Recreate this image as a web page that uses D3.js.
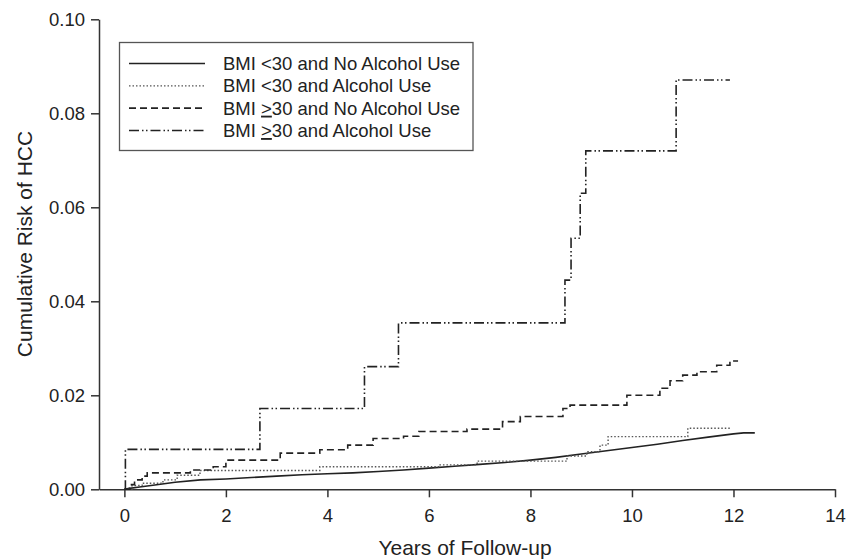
<!DOCTYPE html>
<html>
<head>
<meta charset="utf-8">
<script src="https://cdn.jsdelivr.net/npm/d3@7"></script>
<style>
  body { margin: 0; background: #fff; }
  text { font-family: "Liberation Sans", Arial, sans-serif; fill: #222; }
</style>
</head>
<body>
<div id="chart"></div>
<script>
var svg_dx = 848, svg_dy = 560;

// time (years) and cumulative risk
var noAlcLowT = [0, 0.1, 0.3, 0.6, 1.0, 1.5, 2.0, 2.5, 3.0, 3.5, 4.0, 4.5, 5.0, 5.5, 6.0, 6.5, 7.0, 7.5, 8.0, 8.5, 9.0, 9.5, 10.0, 10.5, 11.0, 11.5, 12.0, 12.2, 12.42];
var noAlcLowV = [0, 0.0002, 0.0005, 0.0009, 0.0015, 0.002, 0.0022, 0.0025, 0.0028, 0.0031, 0.0033, 0.0035, 0.0038, 0.0041, 0.0045, 0.0049, 0.0053, 0.0057, 0.0062, 0.0068, 0.0075, 0.0082, 0.0089, 0.0096, 0.0104, 0.0111, 0.0118, 0.012, 0.012];

var alcLowT = [0, 0.15, 0.35, 0.76, 1.04, 1.49, 3.85, 6.22, 6.95, 8.72, 9.11, 9.37, 9.53, 11.1, 11.93];
var alcLowV = [0, 0.0008, 0.0013, 0.002, 0.003, 0.004, 0.0048, 0.0052, 0.006, 0.0071, 0.008, 0.0094, 0.0112, 0.013, 0.013];

var noAlcHighT = [0, 0.1, 0.2, 0.35, 0.45, 1.3, 1.75, 2.0, 3.07, 3.85, 4.4, 4.9, 5.5, 5.8, 6.75, 7.45, 7.8, 8.64, 8.78, 9.9, 10.55, 10.75, 11.0, 11.28, 11.67, 11.93, 12.09];
var noAlcHighV = [0, 0.001, 0.002, 0.0028, 0.0035, 0.0041, 0.0048, 0.0062, 0.0077, 0.0084, 0.0094, 0.0108, 0.0113, 0.0123, 0.0128, 0.0144, 0.0155, 0.0172, 0.0179, 0.020, 0.0215, 0.0231, 0.0243, 0.025, 0.0264, 0.0273, 0.0273];

var alcHighT = [0, 0.02, 2.67, 4.73, 5.40, 8.68, 8.80, 8.98, 9.09, 10.87, 11.93];
var alcHighV = [0, 0.0085, 0.0172, 0.0261, 0.0354, 0.0445, 0.0534, 0.063, 0.072, 0.0871, 0.0871];

var legendLabels = [
  ["BMI <30 and No Alcohol Use"],
  ["BMI <30 and Alcohol Use"],
  ["BMI ", ">", "30 and No Alcohol Use"],
  ["BMI ", ">", "30 and Alcohol Use"]
];

var xTicks = [0, 2, 4, 6, 8, 10, 12, 14],
    yTicks = [0, 0.02, 0.04, 0.06, 0.08, 0.10];

var styles = [
  {dash: null, width: 1.6, color: "#222", curve: d3.curveLinear},
  {dash: "1.5,2", width: 1.4, color: "#555", curve: d3.curveStepAfter},
  {dash: "7,4", width: 1.6, color: "#222", curve: d3.curveStepAfter},
  {dash: "10,3,1.5,2.5,1.5,3", width: 1.6, color: "#222", curve: d3.curveStepAfter}
];

var series = [
  d3.zip(noAlcLowT, noAlcLowV),
  d3.zip(alcLowT, alcLowV),
  d3.zip(noAlcHighT, noAlcHighV),
  d3.zip(alcHighT, alcHighV)
];

var x = d3.scaleLinear().domain([-0.5, 14]).range([99, 835]);
var y = d3.scaleLinear().domain([0, 0.10]).range([489.3, 19.3]);

var svg = d3.select("#chart")
  .append("svg")
  .attr("width", svg_dx)
  .attr("height", svg_dy);

// axes
var xAxis = svg.append("g")
  .attr("transform", "translate(0," + y(0) + ")")
  .call(d3.axisBottom(x).tickValues(xTicks).tickFormat(d3.format("d")).tickSize(8).tickPadding(12).tickSizeOuter(0));

var yAxis = svg.append("g")
  .attr("transform", "translate(" + x(-0.5) + ",0)")
  .call(d3.axisLeft(y).tickValues(yTicks).tickFormat(d3.format(".2f")).tickSize(8).tickPadding(6).tickSizeOuter(0));

[xAxis, yAxis].forEach(function (g) {
  g.selectAll("path, line").attr("stroke", "#333").attr("stroke-width", 1.5);
  g.selectAll("text").style("font-size", "18.5px").attr("fill", "#222")
   .style("font-family", "'Liberation Sans', Arial, sans-serif");
});

// axis titles
svg.append("text")
  .attr("x", 465)
  .attr("y", 555)
  .attr("text-anchor", "middle")
  .style("font-size", "21px")
  .text("Years of Follow-up");

svg.append("text")
  .attr("transform", "translate(32,244) rotate(-90)")
  .attr("text-anchor", "middle")
  .style("font-size", "21px")
  .text("Cumulative Risk of HCC");

// curves
var line = d3.line()
  .x(function (d) { return x(d[0]); })
  .y(function (d) { return y(d[1]); });

series.forEach(function (s, i) {
  svg.append("path")
    .datum(s)
    .attr("fill", "none")
    .attr("stroke", styles[i].color)
    .attr("stroke-width", styles[i].width)
    .attr("stroke-dasharray", styles[i].dash)
    .attr("d", line.curve(styles[i].curve));
});

// legend
var legend = svg.append("g");

legend.append("rect")
  .attr("x", 119.5)
  .attr("y", 42.5)
  .attr("width", 353.5)
  .attr("height", 108)
  .attr("fill", "#fff")
  .attr("stroke", "#555")
  .attr("stroke-width", 1.3);

var rowY = d3.scaleLinear().domain([0, 3]).range([63.5, 130.5]);

legendLabels.forEach(function (lab, i) {
  legend.append("line")
    .attr("x1", 129).attr("x2", 205)
    .attr("y1", rowY(i)).attr("y2", rowY(i))
    .attr("stroke", styles[i].color)
    .attr("stroke-width", styles[i].width)
    .attr("stroke-dasharray", styles[i].dash);

  var t = legend.append("text")
    .attr("x", 223)
    .attr("y", rowY(i) + 6.5)
    .style("font-size", "18.5px");

  lab.forEach(function (part, j) {
    var ts = t.append("tspan").text(part);
    if (j == 1) ts.style("text-decoration", "underline");
  });
});
</script>
</body>
</html>
